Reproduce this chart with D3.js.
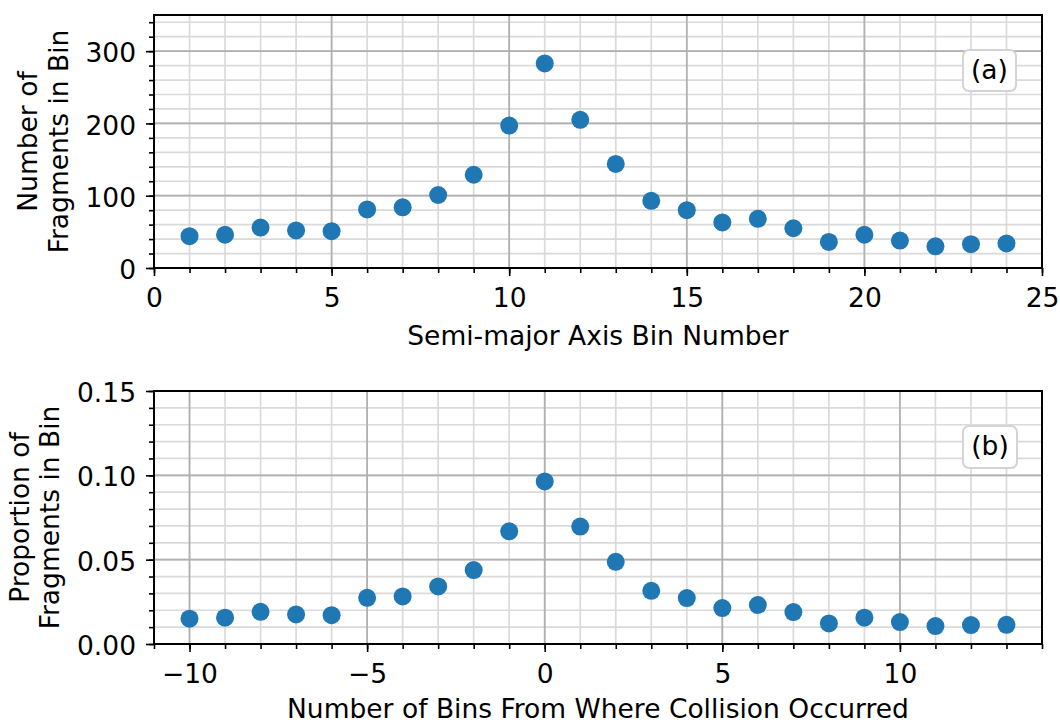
<!DOCTYPE html>
<html>
<head>
<meta charset="utf-8">
<script src="https://cdn.jsdelivr.net/npm/d3@7"></script>
<style>
  html, body { margin: 0; padding: 0; background: #fff; }
  svg text { font-family: "DejaVu Sans", sans-serif; fill: #000; }
</style>
</head>
<body>
<svg id="chart" width="1060" height="723"></svg>
<script>
// Panel (a): fragment counts per semi-major axis bin
const binNumbers = [1, 2, 3, 4, 5, 6, 7, 8, 9, 10, 11, 12, 13, 14, 15, 16, 17, 18, 19, 20, 21, 22, 23, 24];
const fragmentCounts = [44, 46, 56, 52, 51, 81, 84, 101, 129, 197, 283, 205, 144, 93, 80, 63, 68, 55, 36, 46, 38, 30, 33, 34];

// Panel (b): proportion of fragments vs. offset from the collision bin
const binOffsets = [-10, -9, -8, -7, -6, -5, -4, -3, -2, -1, 0, 1, 2, 3, 4, 5, 6, 7, 8, 9, 10, 11, 12, 13];
const fragmentProportions = [0.0150, 0.0156, 0.0191, 0.0175, 0.0171, 0.0274, 0.0282, 0.0341, 0.0438, 0.0668, 0.0964, 0.0696, 0.0487, 0.0315, 0.0272, 0.0213, 0.0231, 0.0189, 0.0122, 0.0156, 0.0130, 0.0106, 0.0112, 0.0114];

const topXTicks = [0, 5, 10, 15, 20, 25];
const topYTicks = [0, 100, 200, 300];
const bottomXTicks = [-10, -5, 0, 5, 10];
const bottomYTicks = [0, 0.05, 0.10, 0.15];

const svg = d3.select("#chart");
const FONT = 26.5;
const DOT = "#1f77b4";

function drawPanel(cfg) {
  const { left, right, top, bottom } = cfg.box;
  const x = d3.scaleLinear().domain(cfg.xDomain).range([left, right]);
  const y = d3.scaleLinear().domain(cfg.yDomain).range([bottom, top]);
  const g = svg.append("g");

  // minor grid
  const xMinor = d3.range(Math.ceil(cfg.xDomain[0]), cfg.xDomain[1] + 1e-9, cfg.xMinorStep);
  const yMinor = d3.range(cfg.yDomain[0], cfg.yDomain[1] + 1e-9, cfg.yMinorStep);
  g.append("g").selectAll("line").data(xMinor).join("line")
    .attr("x1", d => x(d)).attr("x2", d => x(d)).attr("y1", top).attr("y2", bottom)
    .attr("stroke", "#dadada").attr("stroke-width", 1.7);
  g.append("g").selectAll("line").data(yMinor).join("line")
    .attr("y1", d => y(d)).attr("y2", d => y(d)).attr("x1", left).attr("x2", right)
    .attr("stroke", "#dadada").attr("stroke-width", 1.7);

  // major grid
  g.append("g").selectAll("line").data(cfg.xTicks).join("line")
    .attr("x1", d => x(d)).attr("x2", d => x(d)).attr("y1", top).attr("y2", bottom)
    .attr("stroke", "#b0b0b0").attr("stroke-width", 1.7);
  g.append("g").selectAll("line").data(cfg.yTicks).join("line")
    .attr("y1", d => y(d)).attr("y2", d => y(d)).attr("x1", left).attr("x2", right)
    .attr("stroke", "#b0b0b0").attr("stroke-width", 1.7);

  // points
  g.append("g").selectAll("circle").data(cfg.xs).join("circle")
    .attr("cx", d => x(d)).attr("cy", (d, i) => y(cfg.ys[i]))
    .attr("r", 9).attr("fill", DOT);

  // axes: minor ticks without labels, major ticks with labels
  const xAxisMinor = d3.axisBottom(x).tickValues(xMinor).tickSize(5).tickFormat("");
  const xAxisMajor = d3.axisBottom(x).tickValues(cfg.xTicks).tickSize(8).tickPadding(12.5)
    .tickFormat(cfg.xFormat);
  const yAxisMinor = d3.axisLeft(y).tickValues(yMinor).tickSize(5).tickFormat("");
  const yAxisMajor = d3.axisLeft(y).tickValues(cfg.yTicks).tickSize(8).tickPadding(10)
    .tickFormat(cfg.yFormat);

  [xAxisMinor, xAxisMajor].forEach(ax => {
    const a = g.append("g").attr("transform", `translate(0,${bottom})`).call(ax);
    a.select(".domain").remove();
    a.selectAll("line").attr("stroke", "#000").attr("stroke-width", 1.6);
    a.selectAll("text").attr("font-size", FONT).attr("font-family", "DejaVu Sans");
  });
  [yAxisMinor, yAxisMajor].forEach(ax => {
    const a = g.append("g").attr("transform", `translate(${left},0)`).call(ax);
    a.select(".domain").remove();
    a.selectAll("line").attr("stroke", "#000").attr("stroke-width", 1.6);
    a.selectAll("text").attr("font-size", FONT).attr("font-family", "DejaVu Sans")
      .attr("dy", "0.4em");
  });

  // frame
  g.append("rect").attr("x", left).attr("y", top)
    .attr("width", right - left).attr("height", bottom - top)
    .attr("fill", "none").attr("stroke", "#000").attr("stroke-width", 2);

  // x label
  g.append("text").attr("x", (left + right) / 2).attr("y", cfg.xLabelY)
    .attr("text-anchor", "middle").attr("font-size", FONT).text(cfg.xLabel);

  // two-line y label
  const cy = (top + bottom) / 2;
  cfg.yLabel.forEach((line, i) => {
    g.append("text")
      .attr("transform", `translate(${cfg.yLabelX[i]},${cy}) rotate(-90)`)
      .attr("text-anchor", "middle").attr("font-size", FONT).text(line);
  });

  // panel tag box
  const tag = g.append("g");
  tag.append("rect").attr("x", cfg.tagBox[0]).attr("y", cfg.tagBox[1])
    .attr("width", cfg.tagBox[2]).attr("height", cfg.tagBox[3])
    .attr("rx", 6).attr("ry", 6)
    .attr("fill", "#fff").attr("stroke", "#d4d4d4").attr("stroke-width", 2);
  tag.append("text").attr("x", cfg.tagBox[0] + cfg.tagBox[2] / 2)
    .attr("y", cfg.tagBox[1] + cfg.tagBox[3] / 2)
    .attr("dy", "0.32em").attr("text-anchor", "middle").attr("font-size", FONT)
    .text(cfg.tag);
}

const minusFmt = d => (d < 0 ? "\u2212" + Math.abs(d) : String(d));

drawPanel({
  box: { left: 154, right: 1042, top: 15, bottom: 268 },
  xDomain: [0, 25], yDomain: [0, 350],
  xMinorStep: 1, yMinorStep: 20,
  xTicks: topXTicks, yTicks: topYTicks,
  xFormat: d => String(d), yFormat: d => String(d),
  xs: binNumbers, ys: fragmentCounts,
  xLabel: "Semi-major Axis Bin Number", xLabelY: 345,
  yLabel: ["Number of", "Fragments in Bin"], yLabelX: [37, 67.5],
  tag: "(a)", tagBox: [963, 50, 53, 41]
});

drawPanel({
  box: { left: 154, right: 1042, top: 391, bottom: 644 },
  xDomain: [-11, 14], yDomain: [0, 0.15],
  xMinorStep: 1, yMinorStep: 0.01,
  xTicks: bottomXTicks, yTicks: bottomYTicks,
  xFormat: minusFmt, yFormat: d3.format(".2f"),
  xs: binOffsets, ys: fragmentProportions,
  xLabel: "Number of Bins From Where Collision Occurred", xLabelY: 718,
  yLabel: ["Proportion of", "Fragments in Bin"], yLabelX: [29, 59],
  tag: "(b)", tagBox: [963, 426, 54, 42]
});
</script>
</body>
</html>
